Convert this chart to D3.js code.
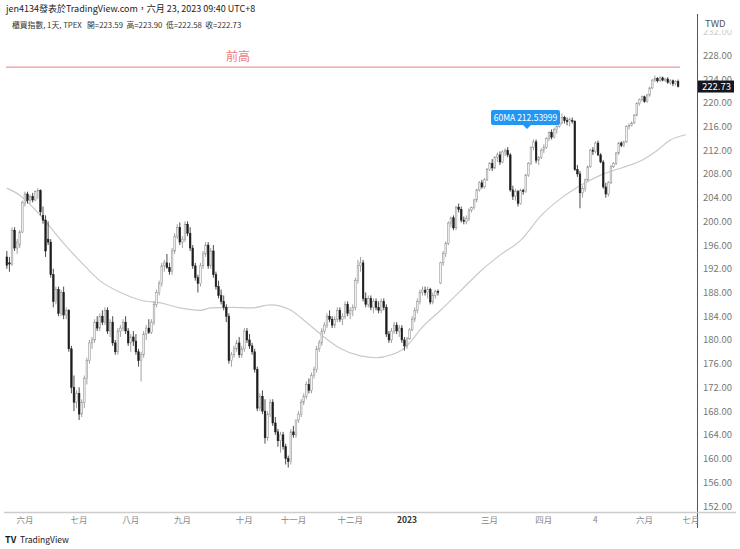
<!DOCTYPE html>
<html><head><meta charset="utf-8">
<script src="https://cdn.jsdelivr.net/npm/d3@7"></script>
<style>body{margin:0;background:#fff}svg{font-family:"Noto Sans CJK TC","Noto Sans",sans-serif}</style>
</head><body><div id="chart"></div>
<script>
// 每根K線 [開, 高, 低, 收]
var candles = [
[194,195,192,192.6],[193,194,191.5,192.8],[192.8,199,192.5,198.5],[198.5,199,195,195.5],[195.5,197,194.5,196.5],
[196,198.5,195.5,198.2],[198.2,203.5,198,203.2],[203,205,202.5,204.6],[204.6,205,203,203.5],[203.5,204.5,203,204.2],
[204.2,204.8,203.2,203.6],[203.6,205.2,203.4,205],[205,205.6,203.8,205.2],[205.2,205.4,201,201.6],[201,202.5,199.6,200.2],
[200.2,201,194,195],[197,200,196,196.5],[196.5,197,190.5,191],[191,192,185.5,186.5],[186.5,189,186,188.5],
[188.5,189,184,184.5],[184.5,188.5,184,188],[188,189,183.5,184.2],[184.2,185.5,183.5,185],[185,185.2,178,178.5],
[178.5,179,171,172],[172,174,168,169.5],[169.5,171.5,168.5,171],[171,172,166.5,167.5],[167.5,170,167,169.5],
[169.5,174,168.5,173.5],[173.5,177,172.5,176.5],[176.5,180,176,179.5],[179.5,180.5,178.5,180],[180,183.5,179.5,183],
[183,184,181.5,182],[182,184.5,181.5,184],[184,185,182.5,183],[183,185.5,182.5,185],[185,185.5,181,181.5],
[181.5,183.5,180.5,183],[183,184,179,179.5],[179.5,180,177.5,178],[178,182,177.5,181.5],[181.5,182.5,180.5,182],
[182,183.5,181.5,183],[183,184,181,181.5],[181.5,182,179,179.5],[179.5,181,178,180.5],[180.5,181.5,179,179.8],
[179.8,181,177.5,178],[178,178.5,175.5,176.5],[176.5,178,173,177.5],[177.5,181.5,177,181],[181,182.5,180,182],
[182,183.5,181,181.3],[181.3,183.5,181,183],[183,186.5,182.5,186],[186,188.5,185.5,188],[188,190,187.5,189.5],
[189.5,193,189,192.5],[192.5,193.5,191.5,193],[193,194.5,192,192.2],[192.2,193,191,191.5],[191.5,195.5,191,195],
[195,198,194.5,197.5],[197.5,199.5,197,199],[199,199.8,196,196.5],[196.5,197.5,195.5,197],[197,200,196.5,199.5],
[199.5,200,197.5,198],[198,199,195,195.5],[195.5,196,192,192.5],[192.5,193,190,190.5],[190.5,191,188,189.5],
[189.5,193,189,192.5],[192.5,195,192,194.5],[194.5,196.5,194,196],[196,196.5,192,192.5],[192.5,195.5,192,195],
[195,196,190.5,191],[191,191.5,188.5,189],[189,190,187,187.5],[187.5,188.5,186,186.5],[186.5,187.5,185,185.5],
[185.5,186,183,184],
[184,184.5,176,176.5],[176.5,178,175.5,177.5],[177.5,179,177,178.5],[178.5,180,178,179.5],[179.5,180.5,177,177.5],
[177.5,179,177,178.5],[178.5,182,178,181.5],[181.5,182,179.5,180],[180,181,178.5,179],[179,179.5,177.5,178],
[178,178.5,174.5,175],[175,175.5,168,168.5],[168.5,171,168,170.5],[170.5,171.5,167.5,168],[168,170,162.5,163.5],
[163.5,168,163,167.5],[167.5,170,167,169.5],[169.5,170,165.5,166],[166,167,164,164.5],[164.5,165,162,163],
[163,164.5,161,164],[164,164.5,161.5,162],[162,162.5,159,160],[160,160.5,158.5,159.5],[159.5,165,159,164.5],
[164.5,165.5,163.5,164],[164,166.5,163.5,166.5],[166.5,168,166,167.5],[167.5,170,167,169.5],[169.5,171,169,170.5],
[170.5,173,170,172.5],[172.5,173.5,171,171.5],[171.5,174.5,171,174],[174,175.5,173.5,175],[175,179,174.5,178.5],
[178.5,180,178,179.5],[179.5,182,179,181.5],[181.5,183,181,182.5],[182.5,184.5,182,184],[184,185,183,183.5],
[183.5,184,182,182.5],[182.5,184,182,183.5],[183.5,185.5,183,185],[185,185.5,183,183.5],[183.5,184.5,182.5,184],
[184,186.5,183.5,186],[186,186.5,184,184.5],[184.5,185.5,183.5,185],[185,186,184,185.5],[185.5,190.5,185,190],
[190,193.5,189.5,192.5],[192.5,194,191.5,193],[193,193.5,186.5,187],[187,188,185.5,186],[186,187.5,185.5,187],
[187,187.5,185,185.5],[185.5,187,184.5,186.5],[186.5,187,185,185.5],[185.5,186.5,184.5,185],[185,187,184.5,186.5],
[186.5,187,185,185.5],[185.5,186,180.5,181],[181,181.5,179.5,180],[180,182,179.5,181.5],[181.5,183,181,182.5],
[182.5,183,181,181.5],[181.5,182.5,180.5,182],[182,182.5,179.5,180],[180,180.5,178.2,179],[179,180.5,178.5,180.2],
[180.2,182,180,181.7],[181.7,184,181.5,183.5],[183.5,185.5,183,185],[185,187,184.5,186.5],[186.5,188.5,186,188],
[188,189,187.5,188.4],[188.4,189,187.5,188],[188,189,187,188.5],[188.5,188.8,186,186.4],[186.4,188,186,187.5],
[187.5,188.5,187,188.2],[188.2,188.5,187.5,188],[189.6,193.2,189.4,193],[193,195,192.5,194.6],[194.6,196.6,194,196.3],
[196.3,200,196,199.7],[199.7,200.8,199,200.6],[200.6,201,198.5,198.9],[198.9,202.6,198.5,202.4],[202.4,203,201.5,202],
[202,202.5,199.8,200.2],[200.2,200.8,199.5,200],[200,201,199.5,200.5],[200.5,202.2,200,201.9],[201.9,202.5,201.5,202.3],
[202.3,203.8,202,203.6],[203.6,205.5,203.2,205.3],[205.3,206.8,205,206.5],[206.5,207,205.5,205.8],[205.8,207.3,205.5,207],
[207,209,206.8,208.7],[208.7,210,208.5,209.8],[209.8,210.5,208.5,209],[209,211,208.8,210.8],[210.8,211.6,210,211.2],
[211.2,211.8,209.5,210],[210,212,209.8,211.7],[211.7,212.3,211,212],[212,212.5,210.8,211.2],[211.2,211.5,205,205.3],
[205.3,206,203.6,204.2],[204.2,205.5,203.5,205],[205,205.3,202.5,203],[203,205.5,202.8,205.2],[205.2,205.5,204.5,205],
[205,208,204.8,207.8],[207.8,210,207.5,209.8],[209.8,212.6,209.5,212.5],[212.5,213.8,212,213.4],[213.4,213.8,209.8,210.3],
[210.3,211,209.5,210.8],[210.8,212.3,210.5,212],[212,213,211.5,212.5],[212.5,214.2,212.2,214],[214,215.2,213.5,215],
[215,215.5,213.8,214.2],[214.2,215.8,214,215.5],[215.5,216.2,214.8,216],
[216,217,215.8,216.6],[216.6,218.2,216.3,217.5],[217.5,217.8,216.5,217],[217,217.5,216.2,216.8],[216.8,217.5,216,217.2],
[217,217.5,216.5,216.9],[216.9,217,208.5,208.7],[208.7,209.5,207.5,208],
[208,208.5,202.2,204.8],[204.8,206,204,205.5],[205.5,207.2,205,207],[207,209.4,206.8,209.2],[209.2,212.2,209,212],
[212,212.5,211.2,211.8],[211.8,213.5,211.5,213.2],[213.2,213.6,211,211.2],[211.2,211.5,209.8,210],[210,210.3,205.5,205.8],
[205.8,206.5,204,204.6],[204.6,206.8,204.2,206.5],[206.5,209.5,206.3,209.2],[209.2,210,209,209.8],[209.8,211.7,209.5,211.5],
[211.5,213.4,211.2,213.2],[213.2,213.5,212.5,212.8],[212.8,213.6,212.5,213.4],[213.4,216.2,213.2,216],[216,216.5,215.5,216.2],
[216.2,216.8,216,216.6],[216.6,218.1,216.4,217.9],[217.9,220.1,217.7,219.9],[219.9,220.7,219.5,220.5],[220.5,221.2,220.2,221],
[221,221.2,220,220.2],[220.2,221.5,220,221.3],[221.3,222.7,221,222.5],[222.5,224,222.3,223.8],[223.8,224.6,223.5,224.1],
[224.1,224.3,223.4,223.7],[223.7,224.5,223.5,224.2],[224.2,224.4,223.6,223.8],[223.8,224.2,223.5,224],[224,224.3,223.2,223.4],
[223.4,224,223,223.7],[223.7,223.9,222.8,223.2],[223.2,223.8,222.9,223.59],[223.59,223.9,222.58,222.73]
];
// 60MA 取樣點（K線序號, 數值）
var maIdx = [0,5,13,21,29,36,44,52,60,67,75,79,87,95,102,110,114,122,129,137,143,149,153,157,160,168,176,184,191,199,207,215,222,230,238,246,252,257,263];
var maVals = [205.6,204.4,201,196.8,193,190,188,186.7,186.2,185.4,185,185.4,185.5,185.4,185.9,185,183.7,180.8,178.6,177.3,177,177.5,178.3,180,181.7,185,188.4,191.8,194.3,196.8,201,204,206,207.8,209,210.3,212,213.7,214.6];
var monthLabels = ["六月","七月","八月","九月","十月","十一月","十二月","2023","三月","四月","4","六月","七月"];
var monthIdx = [7,28,48,68,92,111,133,155,187,208,228,247,265];
var priceTicks = [152,156,160,164,168,172,176,180,184,188,192,196,200,204,208,212,216,220,224,228,232];
var prevHigh = 226, lastClose = 222.73;

var W = 740, H = 549, plotR = 697, plotB = 512;
var svg = d3.select("#chart").append("svg").attr("width", W).attr("height", H);

var slots = 268;
var x = d3.scaleBand().domain(d3.range(slots)).range([6, plotR]).paddingInner(0.35);
var y = d3.scaleLinear().domain([152, 224]).range([506, 79]);
var cx = function(i){ return x(i) + x.bandwidth()/2; };

// 價格軸
svg.append("line").attr("x1", plotR+0.5).attr("x2", plotR+0.5).attr("y1", 14).attr("y2", 528).attr("stroke", "#555");
svg.append("line").attr("x1", 4).attr("x2", W-4).attr("y1", plotB+0.5).attr("y2", plotB+0.5).attr("stroke", "#ccc").attr("stroke-width", 1.5);
svg.append("g").selectAll("text").data(priceTicks).join("text")
  .attr("x", 703).attr("y", function(d){ return y(d)+3.5; })
  .attr("font-size", 9.5).attr("fill", function(d){ return d==232 ? "#ccc" : "#777"; })
  .text(function(d){ return d.toFixed(2); });
svg.append("rect").attr("x", 700).attr("y", 16).attr("width", 40).attr("height", 14).attr("fill", "#fff");
svg.append("text").attr("x", 705).attr("y", 27).attr("font-size", 9.5).attr("fill", "#555").text("TWD");

// 時間軸
svg.append("g").selectAll("text").data(monthLabels).join("text")
  .attr("x", function(d,i){ return cx(monthIdx[i]); }).attr("y", 523)
  .attr("text-anchor", "middle").attr("font-size", 8.5)
  .attr("font-weight", function(d){ return d=="2023" ? "bold" : "normal"; })
  .attr("fill", function(d){ return d=="2023" ? "#333" : "#888"; })
  .text(function(d){ return d; });

// 前高
svg.append("line").attr("x1", 6).attr("x2", 680).attr("y1", y(prevHigh)).attr("y2", y(prevHigh)).attr("stroke", "#f07b7b").attr("stroke-width", 1);
svg.append("text").attr("x", 238).attr("y", y(prevHigh)-6).attr("text-anchor", "middle").attr("font-size", 12).attr("fill", "#f07b7b").text("前高");

// 60MA
var ma = maIdx.map(function(d,i){ return [cx(d), y(maVals[i])]; });
svg.append("path").attr("d", d3.line().curve(d3.curveMonotoneX)(ma)).attr("fill", "none").attr("stroke", "#c9c9c9").attr("stroke-width", 1.2);

// K線
var g = svg.append("g");
candles.forEach(function(c, i){
  var up = c[3] >= c[0], col = up ? "#8a8a8a" : "#1e1e1e";
  g.append("line").attr("x1", cx(i)).attr("x2", cx(i)).attr("y1", y(c[1])).attr("y2", y(c[2])).attr("stroke", col).attr("stroke-width", 0.8);
  var top = y(Math.max(c[0], c[3])), bot = y(Math.min(c[0], c[3]));
  g.append("rect").attr("x", x(i)).attr("y", top).attr("width", x.bandwidth()).attr("height", Math.max(0.8, bot-top))
    .attr("fill", up ? "#f4f4f4" : "#1e1e1e").attr("stroke", col).attr("stroke-width", 0.5);
});

// 收盤價標籤
svg.append("rect").attr("x", 698).attr("y", y(lastClose)-6).attr("width", 36).attr("height", 12).attr("fill", "#131722");
svg.append("text").attr("x", 702).attr("y", y(lastClose)+3.5).attr("font-size", 9.5).attr("fill", "#fff").text(lastClose.toFixed(2));

// 60MA 提示框
var tip = svg.append("g");
tip.append("rect").attr("x", 491).attr("y", 110).attr("width", 69).attr("height", 15).attr("rx", 2).attr("fill", "#2196f3");
tip.append("path").attr("d", "M523,125 L527,129 L531,125 Z").attr("fill", "#2196f3");
tip.append("text").attr("x", 525.5).attr("y", 121).attr("text-anchor", "middle").attr("font-size", 8.5).attr("fill", "#fff").text("60MA 212.53999");

// 標題
svg.append("text").attr("x", 6).attr("y", 12).attr("font-size", 9).attr("fill", "#222").text("jen4134發表於TradingView.com，六月 23, 2023 09:40 UTC+8");
svg.append("text").attr("x", 12).attr("y", 28).attr("font-size", 7.8).attr("fill", "#333").attr("xml:space", "preserve")
  .style("white-space", "pre")
  .text("櫃買指數, 1天, TPEX   開=223.59  高=223.90  低=222.58  收=222.73");
svg.append("text").attr("x", 5).attr("y", 543).attr("font-size", 9).attr("font-weight", "bold").attr("fill", "#131722").text("TV");
svg.append("text").attr("x", 20).attr("y", 543).attr("font-size", 8.5).attr("fill", "#131722").text("TradingView");
</script></body></html>
